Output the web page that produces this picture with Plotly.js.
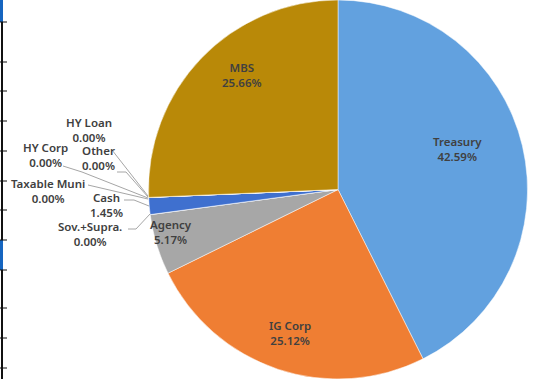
<!DOCTYPE html>
<html>
<head>
<meta charset="utf-8">
<script src="https://cdn.plot.ly/plotly-3.0.1.min.js"></script>
<style>html,body{margin:0;padding:0;background:#fff;}#chart{width:545px;height:379px;}</style>
</head>
<body>
<div id="chart"></div>
<script>
// ---- data ----
var labels = ["Treasury", "IG Corp", "Agency", "Sov.+Supra.", "Cash", "Taxable Muni", "HY Corp", "HY Loan", "Other", "MBS"];
var values = [42.59, 25.12, 5.17, 0.00, 1.45, 0.00, 0.00, 0.00, 0.00, 25.66];
var colors = ["#62A1DF", "#EF7E33", "#A7A7A7", "#8C8C8C", "#3F70CF", "#2F5597", "#7F6000", "#264478", "#9E480E", "#B98908"];

var W = 545, H = 379;
function px(x) { return x / W; }
function py(y) { return 1 - y / H; }

var trace = {
  type: "pie",
  labels: labels,
  values: values,
  sort: false,
  direction: "clockwise",
  rotation: 0,
  marker: { colors: colors, line: { color: "#ffffff", width: 0.5 } },
  textinfo: "none",
  domain: { x: [px(148), px(528)], y: [0, 1] },
  showlegend: false,
  hoverinfo: "label+value"
};

// label positions (pixel centres of the two-line label blocks)
var labelPos = {
  "Treasury": [457, 149],
  "IG Corp": [290, 333],
  "Agency": [171, 232],
  "MBS": [242, 75],
  "HY Loan": [89, 130],
  "HY Corp": [45, 155],
  "Other": [98, 158],
  "Taxable Muni": [48, 191],
  "Cash": [106, 205],
  "Sov.+Supra.": [90, 234]
};
var annotations = [];
labels.forEach(function (l, i) {
  var p = labelPos[l];
  if (!p) return;
  annotations.push({
    xref: "paper", yref: "paper", x: px(p[0]), y: py(p[1]),
    xanchor: "center", yanchor: "middle", showarrow: false,
    text: l + "<br>" + values[i].toFixed(2) + "%",
    font: { family: "Noto Sans, Open Sans, sans-serif", size: 11.5, color: "#404040", weight: 600 }
  });
});

// leader lines (pixel polylines) from outside labels to the pie edge
var leaders = [
  [[112, 150], [148, 196]],
  [[117, 172], [126, 172], [148, 197]],
  [[63, 166], [82, 172], [148, 198]],
  [[88, 185], [148, 199]],
  [[124, 200], [134, 200], [149, 206]],
  [[128, 229], [136, 229], [150, 214]]
];
var shapes = [];
leaders.forEach(function (ln) {
  for (var k = 0; k < ln.length - 1; k++) {
    shapes.push({
      type: "line", xref: "paper", yref: "paper",
      x0: px(ln[k][0]), y0: py(ln[k][1]), x1: px(ln[k + 1][0]), y1: py(ln[k + 1][1]),
      line: { color: "#A6A6A6", width: 1 }
    });
  }
});

// left edge decoration (table border from the screenshot)
shapes.push({ type: "line", xref: "paper", yref: "paper", x0: px(2), x1: px(2), y0: 0, y1: 1, line: { color: "#111111", width: 2 } });
shapes.push({ type: "rect", xref: "paper", yref: "paper", x0: 0, x1: px(3), y0: py(22), y1: py(0), line: { width: 0 }, fillcolor: "#1565C0" });
shapes.push({ type: "rect", xref: "paper", yref: "paper", x0: 0, x1: px(3), y0: py(270), y1: py(240), line: { width: 0 }, fillcolor: "#1565C0" });
[22, 62, 91, 121, 151, 181, 210, 240, 270, 308, 338, 368].forEach(function (y) {
  shapes.push({ type: "line", xref: "paper", yref: "paper", x0: 0, x1: px(7), y0: py(y), y1: py(y), line: { color: "#111111", width: 1 } });
});

var layout = {
  width: W, height: H,
  margin: { l: 0, r: 0, t: 0, b: 0 },
  paper_bgcolor: "#ffffff",
  plot_bgcolor: "#ffffff",
  showlegend: false,
  annotations: annotations,
  shapes: shapes
};

Plotly.newPlot("chart", [trace], layout, { displayModeBar: false, staticPlot: true });
</script>
</body>
</html>
